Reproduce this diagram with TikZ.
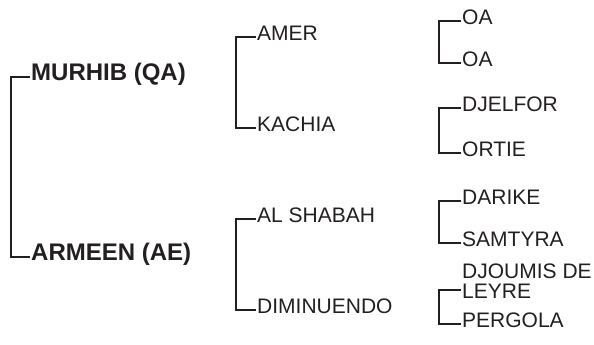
\documentclass[tikz,border=0pt]{standalone}
\usepackage{fontspec}
\setmainfont{Liberation Sans}
\usepackage{tikz}
\usetikzlibrary{positioning}
\definecolor{encre}{HTML}{231F20}

\begin{document}
\begin{tikzpicture}[x=1bp, y=1bp,
    nom/.style={anchor=west, inner xsep=1bp, inner ysep=0pt, text height=0.72em, text depth=0pt, text=encre, font=\fontsize{21bp}{23bp}\selectfont},
    chef/.style={nom, font=\fontsize{24bp}{26bp}\selectfont\bfseries},
    crochet/.style={draw=encre, line width=1.6bp}]
    \useasboundingbox (0,0) rectangle (594,344);
    % Noeuds
    \node[chef] at (30,267) (murhib) {MURHIB (QA)};
    \node[chef] at (30,87) (armeen) {ARMEEN (AE)};
    \node[nom] at (256,307) (amer) {AMER};
    \node[nom] at (256,216) (kachia) {KACHIA};
    \node[nom] at (256,125) (shabah) {AL SHABAH};
    \node[nom] at (256,34) (diminuendo) {DIMINUENDO};
    \node[nom] at (461,323) (oa1) {OA};
    \node[nom] at (461,281) (oa2) {OA};
    \node[nom] at (461,236) (djelfor) {DJELFOR};
    \node[nom] at (461,191) (ortie) {ORTIE};
    \node[nom] at (461,143) (darike) {DARIKE};
    \node[nom] at (461,101) (samtyra) {SAMTYRA};
    \node[anchor=west, inner xsep=1bp, inner ysep=0pt, text=encre, align=left, font=\fontsize{21bp}{20bp}\selectfont] at (461,63) (djoumis) {DJOUMIS DE\\LEYRE};
    \node[nom] at (461,20) (pergola) {PERGOLA};
    % Crochets
    \draw[crochet] (murhib.west) -- ++(-19,0) |- (armeen.west);
    \draw[crochet] (amer.west) -- ++(-20,0) |- (kachia.west);
    \draw[crochet] (shabah.west) -- ++(-20,0) |- (diminuendo.west);
    \draw[crochet] (oa1.west) -- ++(-22,0) |- (oa2.west);
    \draw[crochet] (djelfor.west) -- ++(-22,0) |- (ortie.west);
    \draw[crochet] (darike.west) -- ++(-22,0) |- (samtyra.west);
    \draw[crochet] ([yshift=-9bp]djoumis.west) -- ++(-22,0) |- (pergola.west);
\end{tikzpicture}
\end{document}
